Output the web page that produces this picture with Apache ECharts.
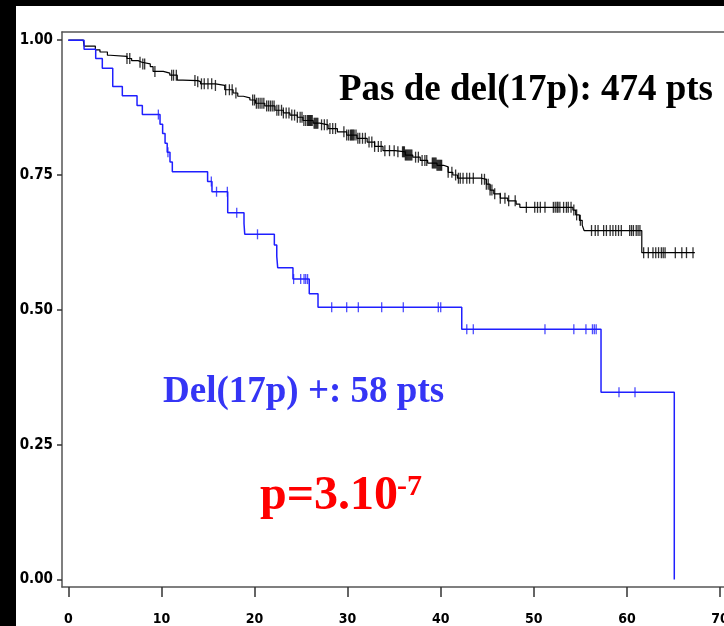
<!DOCTYPE html>
<html>
<head>
<meta charset="utf-8">
<script src="https://cdn.jsdelivr.net/npm/echarts@6/dist/echarts.min.js"></script>
<style>
  html, body { margin: 0; padding: 0; background: #fff; }
  #chart { width: 724px; height: 626px; }
</style>
</head>
<body>
<div id="chart"></div>
<script>
// Kaplan-Meier curves: step times (months) and survival after each step
const blueTime = [0, 1.69, 2.94, 3.65, 4.77, 5.80, 7.38, 7.95, 9.85, 10.13, 10.39, 10.62, 10.92, 11.17,
  14.96, 15.43, 17.12, 18.87, 18.95, 22.13, 22.39, 22.49, 24.13, 25.88, 26.82, 42.26, 57.22, 65.09];
const blueSurv = [1, 0.983, 0.966, 0.948, 0.914, 0.897, 0.879, 0.862, 0.844, 0.827, 0.809, 0.792, 0.774, 0.756,
  0.738, 0.719, 0.680, 0.660, 0.640, 0.620, 0.599, 0.578, 0.557, 0.530, 0.505, 0.464, 0.347, 0];
// censored patients (months)
const blueCensor = [9.67, 10.70, 15.36, 15.92, 17.08, 18.09, 20.32, 24.2, 24.96, 25.32, 25.5, 25.7,
  28.29, 29.90, 31.15, 33.66, 35.98, 39.74, 40.0, 42.8, 43.5, 51.2, 54.3, 55.6, 56.3, 56.5, 56.7, 59.15, 60.87];

const blackTime = [0, 1.6, 1.7, 2.9, 3.4, 4.2, 4.5, 6.3, 6.8, 7.5, 7.9, 8.8, 9.1, 10.2, 10.9, 11.7, 12.3,
  13.9, 14.2, 15.8, 16.8, 17.7, 18.2, 18.8, 19.5, 20.1, 21.1, 22.2, 23.1, 23.8, 24.6, 25.2, 26.3, 27.0,
  27.9, 28.9, 29.9, 31.0, 32.1, 32.9, 33.8, 35.1, 36.2, 37.0, 37.8, 38.6, 39.6, 40.3, 40.8, 41.3, 41.8,
  44.4, 44.9, 45.3, 45.7, 46.4, 47.2, 48.1, 48.5, 54.2, 54.5, 54.9, 55.2, 55.4, 61.6, 67.3];
const blackSurv = [1.0, 0.997, 0.989, 0.982, 0.978, 0.972, 0.970, 0.966, 0.962, 0.959, 0.956, 0.951, 0.942,
  0.939, 0.935, 0.926, 0.925, 0.923, 0.919, 0.916, 0.908, 0.902, 0.896, 0.893, 0.889, 0.883, 0.878, 0.870,
  0.865, 0.861, 0.857, 0.851, 0.846, 0.843, 0.836, 0.830, 0.824, 0.818, 0.811, 0.803, 0.795, 0.793, 0.787,
  0.783, 0.777, 0.772, 0.768, 0.765, 0.755, 0.750, 0.744, 0.742, 0.733, 0.722, 0.715, 0.707, 0.702, 0.696,
  0.690, 0.685, 0.676, 0.666, 0.657, 0.647, 0.606, 0.606];
const blackCensor = [6.3, 6.6, 7.7, 8.0, 8.2, 9.3, 11.1, 11.3, 11.6,
  13.6, 13.9, 14.3, 14.6, 15.0, 15.4, 15.8, 16.9, 17.3, 17.6, 18.0,
  19.8, 20.0, 20.2, 20.4, 20.6, 20.8, 21.0, 21.3, 21.5, 21.7, 21.9, 22.1, 22.4, 22.6, 22.9, 23.1,
  23.4, 23.7, 24.0, 24.3, 24.6, 24.9, 25.1, 25.3, 25.5, 25.7, 25.8, 25.9, 26.0, 26.1, 26.2, 26.4,
  26.5, 26.6, 26.7, 26.8,
  27.2, 27.5, 27.8, 28.1, 28.4, 28.7,
  29.6, 29.9, 30.1, 30.3, 30.4, 30.5, 30.6, 30.7, 30.9, 31.1, 31.3, 31.6, 31.9,
  32.3, 32.6, 32.9, 33.3, 33.6, 34.0, 34.5, 35.0, 35.4,
  35.9, 36.0, 36.1, 36.2, 36.3, 36.4, 36.5, 36.6, 36.7, 36.8, 36.9, 37.3, 37.6, 38.0, 38.3, 38.5,
  39.1, 39.2, 39.3, 39.4, 39.5, 39.6, 39.7, 39.8, 39.9, 40.0, 40.1, 40.8, 41.2, 41.6,
  41.9, 42.1, 42.4, 42.8, 43.1, 43.5, 44.4,
  44.7, 44.9, 45.1, 45.3, 45.5, 45.8, 46.4, 46.9, 47.3, 48.0,
  49.2, 50.1, 50.4, 50.7, 51.2, 52.1, 52.3, 52.5, 52.6, 52.8, 53.2, 53.5, 53.7, 54.0,
  54.3, 54.6, 55.0,
  56.2, 56.6, 56.9, 57.5, 57.8, 58.2, 58.5, 58.8, 59.1, 59.4, 60.3, 60.5, 60.7, 61.0, 61.2, 61.4,
  61.8, 62.3, 62.8, 63.1, 63.4, 63.7, 63.9, 64.1, 65.2, 65.9, 66.4, 67.1];

const xTicks = [0, 10, 20, 30, 40, 50, 60, 70];
const yTicks = [0, 0.25, 0.5, 0.75, 1];

const BLUE = '#1f1fff';
const axisFont = "'Liberation Sans Narrow', 'DejaVu Sans Condensed', 'DejaVu Sans Mono', monospace";
const serif = "'Liberation Serif', 'DejaVu Serif', serif";

// survival level of a step curve at time t
function survAt(times, surv, t) {
  let v = surv[0];
  for (let i = 0; i < times.length; i++) {
    if (times[i] <= t) v = surv[i]; else break;
  }
  return v;
}
const pairs = (xs, ys) => xs.map((x, i) => [x, ys[i]]);
const censorPts = (cs, times, surv) => cs.map(t => [t, survAt(times, surv, t)]);

const chart = echarts.init(document.getElementById('chart'), null, { renderer: 'canvas' });

// plot box runs to the right edge of the canvas, as in the exported figure
const xMin = -0.68, xMax = 70.43;
const yMin = -0.0139, yMax = 1.0151;

chart.setOption({
  animation: false,
  backgroundColor: '#ffffff',
  grid: { left: 62, top: 32, width: 662, height: 555, containLabel: false, outerBoundsMode: 'none' },
  xAxis: [{
    type: 'value', min: xMin, max: xMax, position: 'bottom',
    axisLine: { show: true, onZero: false, lineStyle: { color: '#555', width: 1.5 } },
    axisTick: { show: true, length: 10, customValues: xTicks, lineStyle: { color: '#333', width: 1.5 } },
    axisLabel: { customValues: xTicks, margin: 25, color: '#000', fontFamily: axisFont, fontWeight: 'bold', fontSize: 14 },
    splitLine: { show: false }
  }, {
    type: 'value', min: xMin, max: xMax, position: 'top',
    axisLine: { show: true, onZero: false, lineStyle: { color: '#555', width: 1.5 } },
    axisTick: { show: false }, axisLabel: { show: false }, splitLine: { show: false }
  }],
  yAxis: {
    type: 'value', min: yMin, max: yMax,
    axisLine: { show: true, onZero: false, lineStyle: { color: '#555', width: 1.5 } },
    axisTick: { show: true, length: 5, customValues: yTicks, lineStyle: { color: '#333', width: 1.5 } },
    axisLabel: { customValues: yTicks, margin: 9, color: '#000', fontFamily: axisFont, fontWeight: 'bold', fontSize: 15,
      padding: [6, 0, 0, 0], formatter: v => v.toFixed(2) },
    splitLine: { show: false }
  },
  series: [
    { type: 'line', step: 'end', data: pairs(blackTime, blackSurv), symbol: 'none',
      lineStyle: { color: '#000', width: 1.2 }, z: 3 },
    { type: 'scatter', data: censorPts(blackCensor, blackTime, blackSurv), symbol: 'rect', symbolSize: [1.3, 11],
      itemStyle: { color: '#000' }, z: 4 },
    { type: 'line', step: 'end', data: pairs(blueTime, blueSurv), symbol: 'none',
      lineStyle: { color: BLUE, width: 1.5 }, z: 3 },
    { type: 'scatter', data: censorPts(blueCensor, blueTime, blueSurv), symbol: 'rect', symbolSize: [1.3, 10],
      itemStyle: { color: BLUE }, z: 4 }
  ],
  graphic: [
    { type: 'rect', shape: { x: 0, y: 0, width: 724, height: 6 }, style: { fill: '#000' }, z: 100 },
    { type: 'rect', shape: { x: 0, y: 0, width: 16, height: 626 }, style: { fill: '#000' }, z: 100 },
    { type: 'text', z: 50, style: { text: 'Pas de del(17p): 474 pts', x: 713, y: 90, align: 'right', verticalAlign: 'middle',
      textAlign: 'right', textVerticalAlign: 'middle', font: 'bold 37px ' + serif, fill: '#000' } },
    { type: 'text', z: 50, style: { text: 'Del(17p) +: 58 pts', x: 163, y: 392, align: 'left', verticalAlign: 'middle',
      textAlign: 'left', textVerticalAlign: 'middle', font: 'bold 37px ' + serif, fill: '#3535f5' } },
    { type: 'text', z: 50, style: { text: 'p=3.10', x: 260, y: 497, align: 'left', verticalAlign: 'middle',
      textAlign: 'left', textVerticalAlign: 'middle', font: 'bold 48px ' + serif, fill: '#ff0000' } },
    { type: 'text', z: 50, style: { text: '-7', x: 397, y: 487, align: 'left', verticalAlign: 'middle',
      textAlign: 'left', textVerticalAlign: 'middle', font: 'bold 30px ' + serif, fill: '#ff0000' } }
  ]
});
</script>
</body>
</html>
